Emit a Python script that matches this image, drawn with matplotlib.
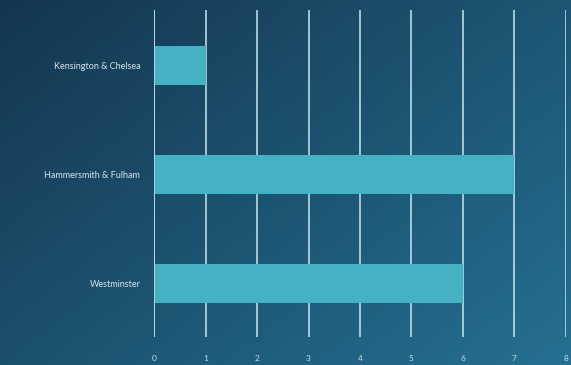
import matplotlib.pyplot as plt
import numpy as np

boroughs = ["Kensington & Chelsea", "Hammersmith & Fulham", "Westminster"]
counts = [1, 7, 6]
xticks = [0, 1, 2, 3, 4, 5, 6, 7, 8]

plt.rcParams['font.family'] = ['Lato', 'DejaVu Sans']

fig = plt.figure(figsize=(5.71, 3.65), dpi=100)

# diagonal navy-to-teal backdrop
bg = fig.add_axes([0, 0, 1, 1], zorder=-10)
yy, xx = np.mgrid[0:1:200j, 0:1:300j]
t = np.clip(0.55 * xx + 0.45 * yy, 0, 1)
c0 = np.array([0x14, 0x36, 0x50]) / 255
c1 = np.array([0x25, 0x70, 0x91]) / 255
img = c0[None, None, :] * (1 - t[..., None]) + c1[None, None, :] * t[..., None]
bg.imshow(img, aspect='auto', extent=[0, 1, 0, 1], origin='upper')
bg.axis('off')

ax = fig.add_axes([0.27, 0.077, 0.721, 0.896])
ax.patch.set_alpha(0)
ax.set_axisbelow(True)
y = np.arange(len(boroughs))
ax.barh(y, counts, height=0.36, color='#44b2c2', zorder=2)
ax.axvline(0, color='#b9dce9', linewidth=1.2, zorder=3)
ax.set_ylim(2.49, -0.51)
ax.set_xlim(0, 8)
ax.set_yticks(y)
ax.set_yticklabels(boroughs, fontsize=6.5, color='#d4e4ec')
ax.set_xticks(xticks)
ax.set_xticklabels([str(v) for v in xticks], fontsize=6, color='#c8dde6')
ax.tick_params(axis='both', length=0)
ax.tick_params(axis='x', pad=13)
ax.tick_params(axis='y', pad=10)
ax.grid(axis='x', color='#b9dce9', linewidth=1.2)
for s in ax.spines.values():
    s.set_visible(False)

fig.savefig('out.png', dpi=100)
